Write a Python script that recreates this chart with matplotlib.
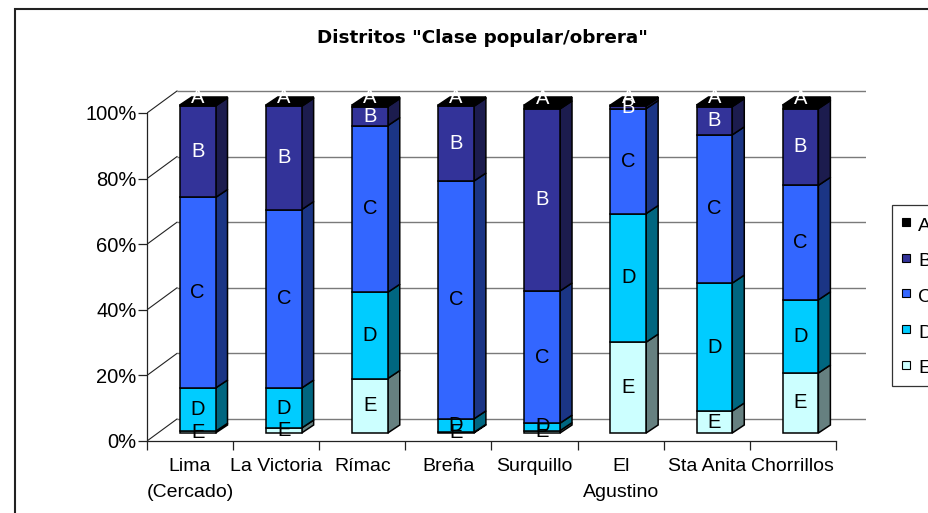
import matplotlib
matplotlib.use("Agg")
import matplotlib.pyplot as plt
from matplotlib.patches import Polygon, Rectangle
from matplotlib.lines import Line2D

plt.rcParams['font.family'] = ['Liberation Sans', 'DejaVu Sans']

# ---------------- data ----------------
categories = ["Lima\n(Cercado)", "La Victoria", "Rímac", "Breña",
              "Surquillo", "El\nAgustino", "Sta Anita", "Chorrillos"]
series_names = ["A", "B", "C", "D", "E"]
A = [0.3, 0.4, 0.5, 0.4, 1.2, 0.3, 0.5, 1.1]
B = [27.9, 31.5, 5.8, 22.8, 55.5, 0.8, 8.6, 23.4]
C = [58.1, 54.4, 50.8, 72.5, 40.3, 32.0, 45.2, 34.9]
D = [13.2, 12.2, 26.3, 4.1, 2.3, 39.2, 39.0, 22.3]
E = [0.5, 1.5, 16.6, 0.2, 0.7, 27.7, 6.7, 18.3]
yticks = [0, 20, 40, 60, 80, 100]
ytick_labels = ["0%", "20%", "40%", "60%", "80%", "100%"]

# ---------------- style ----------------
front_colors = {"A": "#000000", "B": "#333399", "C": "#3366FF",
                "D": "#00CCFF", "E": "#CCFFFF"}
side_colors = {"A": "#000000", "B": "#1C1C4E", "C": "#1B3585",
               "D": "#006680", "E": "#668080"}
label_colors = {"A": "white", "B": "white", "C": "black",
                "D": "black", "E": "black"}

W, H = 929, 513
fig = plt.figure(figsize=(W / 100, H / 100), dpi=100)
px_x = 86.125   # pixels per category
px_y = 3.28     # pixels per percent
ax = fig.add_axes([147 / W, (H - 441) / H, 719 / W, 356 / H])
ax.set_xlim(0, 719 / px_x)
ax.set_ylim(0, 356 / px_y)

n = len(categories)
# depth offsets (data units)
wall_dx, wall_dy = 30 / px_x, 22 / px_y
front_dx, front_dy = 0.088, 8 / px_y
side_dx, side_dy = 12 / px_x, 8 / px_y
bar_w = 0.415

# back wall gridlines and left wall diagonals
for v in yticks:
    ax.plot([wall_dx, n + wall_dx], [v + wall_dy, v + wall_dy],
            color="#7a7a7a", lw=1.0, zorder=1, solid_capstyle="butt")
    ax.plot([0, wall_dx], [v, v + wall_dy], color="#222222", lw=0.8, zorder=1)

# stacked 3D-looking bars
stack_order = ["E", "D", "C", "B", "A"]
values = {"A": A, "B": B, "C": C, "D": D, "E": E}
xs = [i + 0.5 + front_dx for i in range(n)]
bottoms = [front_dy] * n
containers = {}
for s in stack_order:
    vals = values[s]
    bc = ax.bar(xs, vals, width=bar_w, bottom=bottoms, color=front_colors[s],
                edgecolor="black", linewidth=1.1, zorder=4)
    containers[s] = bc
    bottoms = [b + v for b, v in zip(bottoms, vals)]

for s in stack_order:
    for rect in containers[s]:
        x0, y0 = rect.get_x(), rect.get_y()
        w, h = rect.get_width(), rect.get_height()
        xr = x0 + w
        side = Polygon([(xr, y0), (xr + side_dx, y0 + side_dy),
                        (xr + side_dx, y0 + h + side_dy), (xr, y0 + h)],
                       closed=True, facecolor=side_colors[s],
                       edgecolor="black", linewidth=1.1, zorder=3)
        ax.add_patch(side)

# top faces (top segment)
top = stack_order[-1]
for rect in containers[top]:
    x0, y0 = rect.get_x(), rect.get_y()
    w, h = rect.get_width(), rect.get_height()
    t = y0 + h
    face = Polygon([(x0, t), (x0 + side_dx, t + side_dy),
                    (x0 + w + side_dx, t + side_dy), (x0 + w, t)],
                   closed=True, facecolor=front_colors[top],
                   edgecolor="black", linewidth=1.1, zorder=5)
    ax.add_patch(face)

# segment labels
for s in stack_order:
    for rect in containers[s]:
        cx = rect.get_x() + rect.get_width() / 2
        cy = rect.get_y() + rect.get_height() / 2
        if s == "A":
            cy += side_dy
        ax.text(cx, cy, s, ha="center", va="center", fontsize=14.5,
                color=label_colors[s], zorder=10)

# axes
for sp in ["top", "right"]:
    ax.spines[sp].set_visible(False)
ax.spines["left"].set_bounds(0, 100)
ax.spines["bottom"].set_bounds(0, n)
for sp in ["left", "bottom"]:
    ax.spines[sp].set_color("#222222")
    ax.spines[sp].set_linewidth(0.9)
ax.set_yticks(yticks)
ax.set_yticklabels(ytick_labels, fontsize=14.5)
ax.tick_params(axis="y", direction="out", length=6.5, width=0.9,
               color="#222222", pad=1)
ax.set_xticks(range(n + 1))
ax.set_xticklabels([])
ax.set_xticks([i + 0.5 for i in range(n)], minor=True)
ax.set_xticklabels(categories, minor=True, fontsize=14, linespacing=1.7)
ax.tick_params(axis="x", which="major", direction="out", length=6.5,
               width=0.9, color="#222222")
ax.tick_params(axis="x", which="minor", length=0, pad=12.5)

# title
fig.text(482 / W, 1 - 38 / H, 'Distritos "Clase popular/obrera"',
         ha="center", va="center", fontsize=13.2, fontweight="bold",
         family="DejaVu Sans")

# legend
handles = [Line2D([], [], linestyle="none", marker="s", markersize=6,
                  markerfacecolor=front_colors[s], markeredgecolor="black",
                  markeredgewidth=0.8)
           for s in series_names]
leg = fig.legend(handles, series_names, loc="upper left",
                 bbox_to_anchor=(892 / W, 1 - 205 / H), fontsize=14,
                 frameon=True, fancybox=False, borderpad=0.45,
                 handlelength=0.5, handleheight=1.3, handletextpad=0.4,
                 labelspacing=0.74, borderaxespad=0)
leg.get_frame().set_edgecolor("black")
leg.get_frame().set_linewidth(0.9)

# chart area border
fig.patches.append(Rectangle((15 / W, -0.1), 1.2, (H - 9) / H + 0.1,
                             transform=fig.transFigure, fill=False,
                             edgecolor="#222222", linewidth=1.5))

fig.savefig("out.png", dpi=100)
